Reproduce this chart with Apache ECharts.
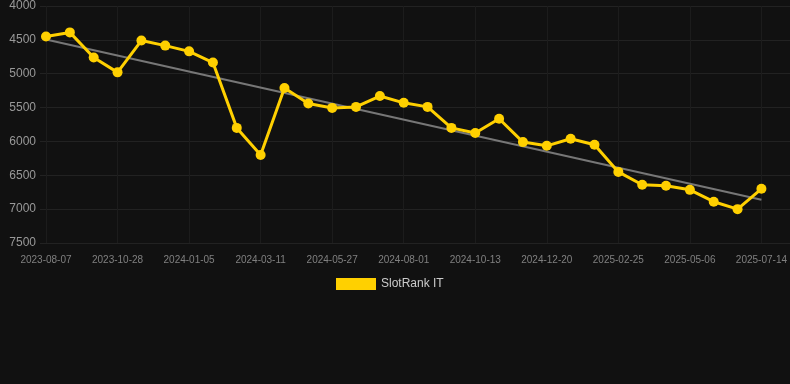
<!DOCTYPE html>
<html>
<head>
<meta charset="utf-8">
<script src="https://cdn.jsdelivr.net/npm/echarts@6/dist/echarts.min.js"></script>
<style>
html,body{margin:0;padding:0;background:#111111;}
#chart{width:790px;height:384px;}
</style>
</head>
<body>
<div id="chart"></div>
<script>
const categories = [
  '2023-08-07','2023-09-03','2023-10-01','2023-10-28','2023-11-21','2023-12-13',
  '2024-01-05','2024-01-27','2024-02-18','2024-03-11','2024-04-06','2024-05-01',
  '2024-05-27','2024-06-19','2024-07-10','2024-08-01','2024-08-25','2024-09-18',
  '2024-10-13','2024-11-04','2024-11-27','2024-12-20','2025-01-12','2025-02-03',
  '2025-02-25','2025-03-20','2025-04-12','2025-05-06','2025-05-29','2025-06-21',
  '2025-07-14'
];
const rankValues = [
  4450, 4390, 4760, 4980, 4510, 4585, 4670, 4835, 5800, 6200,
  5210, 5440, 5505, 5490, 5330, 5430, 5490, 5800, 5875, 5665,
  6010, 6065, 5960, 6050, 6450, 6640, 6655, 6715, 6890, 7000,
  6700
];
const trendStart = 4495;
const trendEnd = 6860;
const yTicks = [4000, 4500, 5000, 5500, 6000, 6500, 7000, 7500];
const seriesName = 'SlotRank IT';

const trendValues = categories.map((c, i) =>
  i === 0 ? trendStart : (i === categories.length - 1 ? trendEnd : null));

const chart = echarts.init(document.getElementById('chart'), null, {renderer: 'canvas'});
chart.setOption({
  backgroundColor: '#111111',
  animation: false,
  legend: {
    data: [seriesName],
    left: 331,
    top: 273,
    itemWidth: 40,
    itemHeight: 12,
    itemGap: 10,
    icon: 'rect',
    textStyle: {color: '#cccccc', fontSize: 12, fontFamily: 'Liberation Sans, Arial, sans-serif'}
  },
  grid: [
    {left: 46, right: 28, top: 6, bottom: 141, containLabel: false},
    {left: 40, right: 0, top: 6, bottom: 141, containLabel: false}
  ],
  xAxis: [
    {
      type: 'category',
      gridIndex: 0,
      data: categories,
      boundaryGap: false,
      axisLine: {show: false},
      axisTick: {show: false},
      axisLabel: {
        interval: 2,
        color: '#808080',
        fontSize: 10,
        margin: 12,
        fontFamily: 'Liberation Sans, Arial, sans-serif'
      },
      splitLine: {show: true, interval: 2, lineStyle: {color: '#1c1c1c', width: 1}}
    },
    {
      type: 'value',
      gridIndex: 1,
      min: 0, max: 1,
      show: false
    }
  ],
  yAxis: [
    {
      type: 'value',
      gridIndex: 0,
      inverse: true,
      min: yTicks[0],
      max: yTicks[yTicks.length - 1],
      interval: 500,
      axisLine: {show: false},
      axisTick: {show: false},
      axisLabel: {
        color: '#999999',
        fontSize: 12,
        margin: 10,
        formatter: v => String(v),
        fontFamily: 'Liberation Sans, Arial, sans-serif'
      },
      splitLine: {show: false}
    },
    {
      type: 'value',
      gridIndex: 1,
      inverse: true,
      min: yTicks[0],
      max: yTicks[yTicks.length - 1],
      interval: 500,
      axisLine: {show: false},
      axisTick: {show: false},
      axisLabel: {show: false},
      splitLine: {show: true, lineStyle: {color: '#222222', width: 1}}
    }
  ],
  series: [
    {
      name: 'Trend',
      type: 'line',
      xAxisIndex: 0,
      yAxisIndex: 0,
      data: trendValues,
      connectNulls: true,
      symbol: 'none',
      lineStyle: {color: '#777777', width: 2},
      z: 1,
      silent: true
    },
    {
      name: seriesName,
      type: 'line',
      xAxisIndex: 0,
      yAxisIndex: 0,
      data: rankValues,
      symbol: 'circle',
      symbolSize: 10,
      itemStyle: {color: '#FFD000'},
      lineStyle: {color: '#FFD000', width: 3},
      z: 2
    }
  ]
});
</script>
</body>
</html>
